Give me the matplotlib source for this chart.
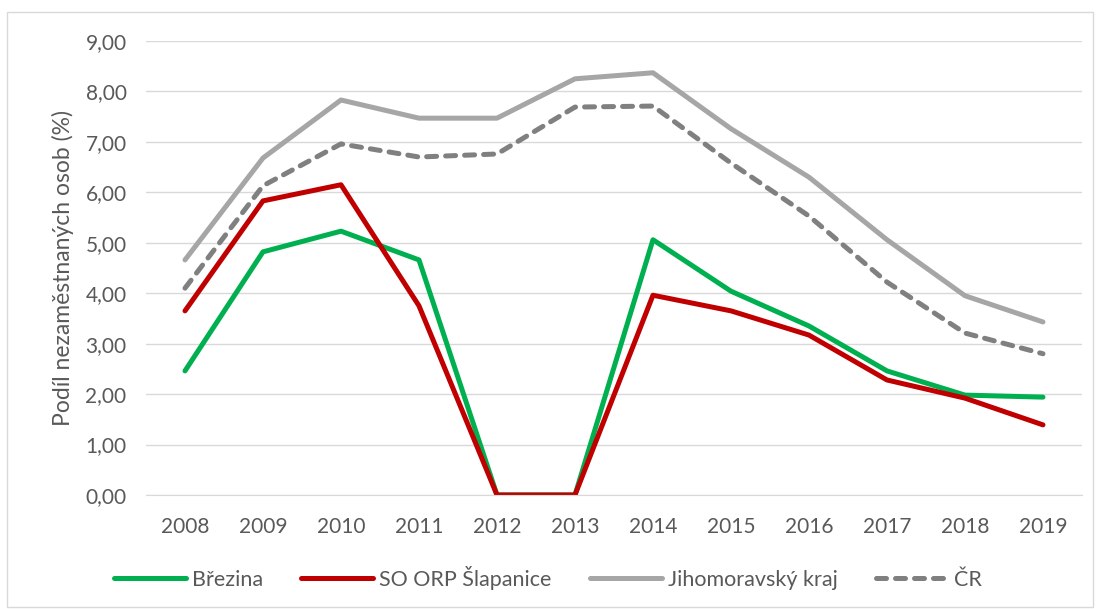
import numpy as np
import matplotlib.pyplot as plt
from matplotlib.patches import Rectangle
from matplotlib.ticker import FuncFormatter

plt.rcParams['font.family'] = ['Lato', 'DejaVu Sans']

years = ['2008', '2009', '2010', '2011', '2012', '2013',
         '2014', '2015', '2016', '2017', '2018', '2019']
brezina = [2.46, 4.82, 5.23, 4.66, 0.0, 0.0, 5.06, 4.04, 3.35, 2.46, 1.98, 1.94]
slapanice = [3.65, 5.83, 6.15, 3.75, 0.0, 0.0, 3.96, 3.65, 3.17, 2.28, 1.92, 1.39]
jmk = [4.66, 6.68, 7.83, 7.47, 7.47, 8.25, 8.37, 7.26, 6.30, 5.06, 3.95, 3.43]
cr = [4.10, 6.13, 6.96, 6.70, 6.76, 7.69, 7.71, 6.58, 5.53, 4.22, 3.21, 2.80]

fig = plt.figure(figsize=(10.96, 6.09), dpi=100)
fig.patches.append(Rectangle((7/1096, 2/609), 1086/1096, 595/609,
                             transform=fig.transFigure, fill=False,
                             edgecolor='#d9d9d9', linewidth=1))
ax = fig.add_axes([0.1332, 0.1872, 0.854, 0.7455])

x = np.arange(len(years))
ax.plot(x, brezina, color='#00b050', lw=3.6, label='Březina', solid_capstyle='round')
ax.plot(x, slapanice, color='#c00000', lw=3.6, label='SO ORP Šlapanice', solid_capstyle='round')
ax.plot(x, jmk, color='#a6a6a6', lw=3.6, label='Jihomoravský kraj', solid_capstyle='round')
ax.plot(x, cr, color='#808080', lw=3.6, ls=(0, (2.0, 1.8)), label='ČR', dash_capstyle='round')

ax.set_xlim(-0.5, 11.5)
ax.set_ylim(0, 9)
ax.set_yticks(np.arange(0, 10, 1))
ax.yaxis.set_major_formatter(FuncFormatter(lambda v, p: f'{v:.2f}'.replace('.', ',')))
ax.set_xticks(x)
ax.set_xticklabels(years)
ax.grid(axis='y', color='#d9d9d9', lw=1)
ax.set_axisbelow(True)
for s in ['top', 'right', 'left']:
    ax.spines[s].set_visible(False)
ax.spines['bottom'].set_color('#d9d9d9')
ax.tick_params(length=0, labelsize=15, labelcolor='#595959')
ax.tick_params(axis='x', pad=16)
ax.tick_params(axis='y', pad=14)
ax.set_ylabel('Podíl nezaměstnaných osob (%)', fontsize=16.5, color='#595959', labelpad=8)

fig.legend(loc='lower center', ncol=4, frameon=False, fontsize=15.5,
           labelcolor='#595959', bbox_to_anchor=(0.5, 0.0), handlelength=3.35,
           columnspacing=1.77, handletextpad=0.28)

fig.savefig('out.png', dpi=100)
